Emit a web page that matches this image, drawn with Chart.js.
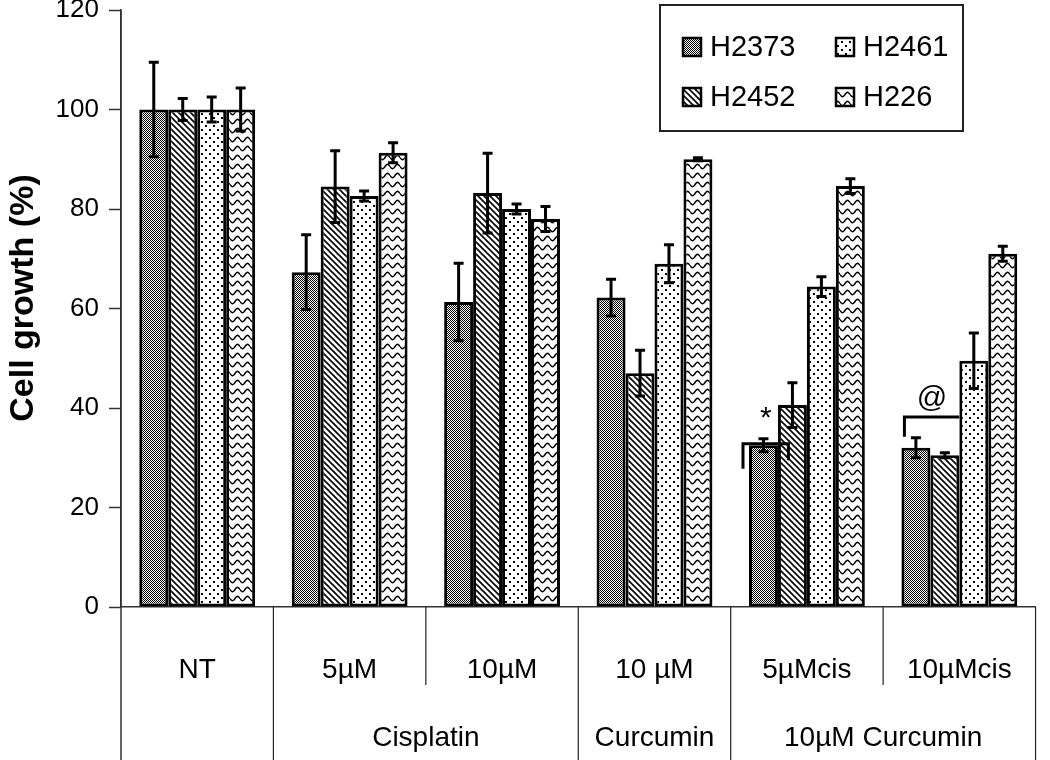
<!DOCTYPE html>
<html>
<head>
<meta charset="utf-8">
<script src="https://cdn.jsdelivr.net/npm/chart.js@4.4.1/dist/chart.umd.min.js"></script>
<style>
  body { margin: 0; background: #fff; }
  #wrap { width: 1050px; height: 760px; }
</style>
</head>
<body>
<div id="wrap"><canvas id="chart"></canvas></div>
<script>
// treatments (first row under the axis) and the groups they belong to
var categories = ['NT', '5µM', '10µM', '10 µM', '5µMcis', '10µMcis'];
var groupLabels = ['', 'Cisplatin', 'Curcumin', '10µM Curcumin'];
var groupSpans = [1, 2, 1, 2];

var seriesNames = ['H2373', 'H2452', 'H2461', 'H226'];

var h2373 = [100, 67.3, 61.3, 62.2, 32.5, 32];
var h2373Err = [9.5, 7.5, 7.8, 3.7, 1.3, 2];
var h2452 = [100, 84.5, 83.2, 47, 40.6, 30.5];
var h2452Err = [2.2, 7.2, 8, 4.6, 4.5, 0.5];
var h2461 = [100, 82.6, 80, 69, 64.4, 49.5];
var h2461Err = [2.5, 1, 1, 3.8, 2, 5.6];
var h226 = [100, 91.3, 78, 90, 84.6, 71];
var h226Err = [4.3, 2, 2.5, 0.3, 1.5, 1.5];

var yTicks = [0, 20, 40, 60, 80, 100, 120];

var canvas = document.getElementById('chart');
var ctx = canvas.getContext('2d');

// black and white fill patterns, one per cell line
function makePattern(kind) {
    var tile = document.createElement('canvas');
    var g = tile.getContext('2d');
    if (kind == 'checker') {
        tile.width = 4; tile.height = 4;
        g.fillStyle = '#fff';
        g.fillRect(0, 0, 4, 4);
        g.fillStyle = '#000';
        for (var y = 0; y < 4; y++) {
            for (var x = 0; x < 4; x++) {
                if ((x + y) % 2 == 0) g.fillRect(x, y, 1, 1);
            }
        }
        g.fillRect(1, 1, 1, 1);
    } else if (kind == 'diag') {
        tile.width = 6; tile.height = 6;
        g.fillStyle = '#fff';
        g.fillRect(0, 0, 6, 6);
        g.strokeStyle = '#000';
        g.lineWidth = 1.6;
        g.beginPath();
        g.moveTo(-1, -1); g.lineTo(7, 7);
        g.moveTo(-1, 5); g.lineTo(1, 7);
        g.moveTo(5, -1); g.lineTo(7, 1);
        g.stroke();
    } else if (kind == 'dots') {
        tile.width = 8; tile.height = 8;
        g.fillStyle = '#fff';
        g.fillRect(0, 0, 8, 8);
        g.fillStyle = '#000';
        g.fillRect(1, 1, 2, 2);
        g.fillRect(5, 5, 2, 2);
    } else {
        tile.width = 10; tile.height = 9;
        g.fillStyle = '#fff';
        g.fillRect(0, 0, 10, 9);
        g.strokeStyle = '#000';
        g.lineWidth = 1.5;
        g.beginPath();
        for (var i = 0; i <= 20; i++) {
            var px = i / 2;
            var py = 4.5 + 2.2 * Math.sin(px / 10 * Math.PI * 2);
            if (i == 0) g.moveTo(px, py); else g.lineTo(px, py);
        }
        g.stroke();
    }
    return ctx.createPattern(tile, 'repeat');
}

var fills = [makePattern('checker'), makePattern('diag'), makePattern('dots'), makePattern('wave')];
var values = [h2373, h2452, h2461, h226];
var errors = [h2373Err, h2452Err, h2461Err, h226Err];

var datasets = [];
for (var i = 0; i < seriesNames.length; i++) {
    datasets.push({
        label: seriesNames[i],
        data: values[i],
        errors: errors[i],
        backgroundColor: fills[i],
        borderColor: '#000',
        borderWidth: 3,
        borderSkipped: false,
        categoryPercentage: 0.76,
        barPercentage: 1
    });
}

var errorBars = {
    id: 'errorBars',
    afterDatasetsDraw: function(chart) {
        var g = chart.ctx;
        var yScale = chart.scales.y;
        g.save();
        g.strokeStyle = '#000';
        g.lineWidth = 3;
        chart.data.datasets.forEach(function(ds, i) {
            chart.getDatasetMeta(i).data.forEach(function(bar, j) {
                var top = yScale.getPixelForValue(ds.data[j] + ds.errors[j]);
                var bot = yScale.getPixelForValue(ds.data[j] - ds.errors[j]);
                g.beginPath();
                g.moveTo(bar.x, top); g.lineTo(bar.x, bot);
                g.moveTo(bar.x - 5, top); g.lineTo(bar.x + 5, top);
                g.moveTo(bar.x - 5, bot); g.lineTo(bar.x + 5, bot);
                g.stroke();
            });
        });
        g.restore();
    }
};

// table lines under the axis, second label row, legend box, axis title, marks
var decorations = {
    id: 'decorations',
    afterDraw: function(chart) {
        var g = chart.ctx;
        var area = chart.chartArea;
        var xScale = chart.scales.x;
        var yScale = chart.scales.y;
        var n = categories.length;
        g.save();

        // y axis runs down through the table
        g.strokeStyle = '#333';
        g.lineWidth = 1.5;
        g.beginPath();
        g.moveTo(area.left, area.top);
        g.lineTo(area.left, 760);
        g.stroke();

        var bounds = [area.left];
        for (var i = 0; i < n - 1; i++) {
            bounds.push((xScale.getPixelForValue(i) + xScale.getPixelForValue(i + 1)) / 2);
        }
        bounds.push(area.right);

        // boundaries that are inside a group stop halfway down
        var groupStarts = [0];
        groupSpans.forEach(function(s, k) { groupStarts.push(groupStarts[k] + s); });
        g.lineWidth = 1.2;
        g.strokeStyle = '#222';
        for (var b = 1; b < bounds.length; b++) {
            var full = groupStarts.indexOf(b) >= 0;
            g.beginPath();
            g.moveTo(bounds[b], area.bottom);
            g.lineTo(bounds[b], full ? 760 : 685);
            g.stroke();
        }

        g.fillStyle = '#000';
        g.font = '28px "Liberation Sans", Arial, sans-serif';
        g.textAlign = 'center';
        g.textBaseline = 'middle';
        for (var k = 0; k < groupLabels.length; k++) {
            if (!groupLabels[k]) continue;
            var cx = (bounds[groupStarts[k]] + bounds[groupStarts[k + 1]]) / 2;
            g.fillText(groupLabels[k], cx, 738);
        }

        // y title
        g.save();
        g.translate(24, 298);
        g.rotate(-Math.PI / 2);
        g.font = 'bold 34px "Liberation Sans", Arial, sans-serif';
        g.fillText('Cell growth (%)', 0, 0);
        g.restore();

        // legend: two columns, two rows
        g.strokeStyle = '#222';
        g.lineWidth = 2;
        g.strokeRect(660, 5, 303, 126);
        g.font = '29px "Liberation Sans", Arial, sans-serif';
        g.textAlign = 'left';
        chart.data.datasets.forEach(function(ds, i) {
            var col = Math.floor(i / 2);
            var row = i % 2;
            var sx = 683 + col * 153;
            var sy = 47 + row * 50;
            g.fillStyle = ds.backgroundColor;
            g.fillRect(sx, sy - 9, 18, 18);
            g.lineWidth = 2.5;
            g.strokeStyle = '#000';
            g.strokeRect(sx, sy - 9, 18, 18);
            g.fillStyle = '#000';
            g.fillText(ds.label, sx + 27, sy + 1);
        });

        // significance marks
        var m0 = chart.getDatasetMeta(0).data;
        var m1 = chart.getDatasetMeta(1).data;
        var m2 = chart.getDatasetMeta(2).data;
        g.strokeStyle = '#000';
        g.lineWidth = 3;
        g.font = '30px "Liberation Sans", Arial, sans-serif';
        g.textAlign = 'center';

        // * over 5µMcis
        var a = m0[4], b1 = m1[4];
        var xl = a.x - a.width / 2 - 6;
        var xr = b1.x - 4;
        var yh = yScale.getPixelForValue(32.8);
        g.beginPath();
        g.moveTo(xl, yScale.getPixelForValue(27.8));
        g.lineTo(xl, yh);
        g.lineTo(xr, yh);
        g.lineTo(xr, yScale.getPixelForValue(29.5));
        g.stroke();
        g.fillText('*', (xl + xr) / 2, yScale.getPixelForValue(37.8));

        // @ over 10µMcis
        var c = m0[5], d = m2[5];
        var xl2 = c.x - c.width / 2 + 3;
        var xr2 = d.x - d.width / 2;
        var yh2 = yScale.getPixelForValue(38.2);
        g.beginPath();
        g.moveTo(xl2, yScale.getPixelForValue(34.2));
        g.lineTo(xl2, yh2);
        g.lineTo(xr2, yh2);
        g.stroke();
        g.fillText('@', (xl2 + xr2) / 2, yScale.getPixelForValue(41.8));

        g.restore();
    }
};

new Chart(ctx, {
    type: 'bar',
    data: {
        labels: categories,
        datasets: datasets
    },
    options: {
        responsive: true,
        maintainAspectRatio: false,
        animation: false,
        layout: {
            padding: { top: 0, right: 3, left: 0, bottom: 0 }
        },
        plugins: {
            legend: { display: false },
            tooltip: { enabled: false }
        },
        scales: {
            x: {
                grid: { display: false },
                border: { color: '#333', width: 1.5 },
                ticks: {
                    color: '#000',
                    padding: 38,
                    font: { family: '"Liberation Sans", Arial, sans-serif', size: 28 }
                },
                afterFit: function(scale) { scale.height = 153; }
            },
            y: {
                min: 0,
                max: 120,
                afterBuildTicks: function(scale) {
                    scale.ticks = yTicks.map(function(v) { return { value: v }; });
                },
                grid: {
                    drawOnChartArea: false,
                    tickLength: 12,
                    tickWidth: 1.5,
                    tickColor: '#333'
                },
                border: { color: '#333', width: 1.5 },
                ticks: {
                    color: '#000',
                    padding: 10,
                    font: { family: '"Liberation Sans", Arial, sans-serif', size: 26 }
                },
                afterFit: function(scale) {
                    scale.width = 121;
                    scale.paddingTop = 10;
                    scale.paddingBottom = 0;
                }
            }
        }
    },
    plugins: [errorBars, decorations]
});
</script>
</body>
</html>
